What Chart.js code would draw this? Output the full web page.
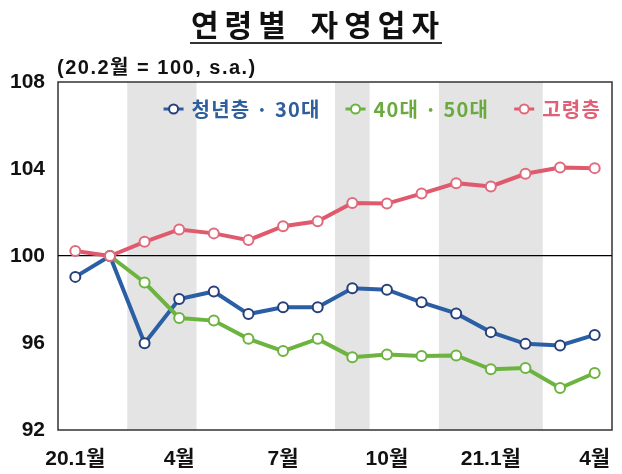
<!DOCTYPE html>
<html>
<head>
<meta charset="utf-8">
<script src="https://cdn.jsdelivr.net/npm/chart.js@4/dist/chart.umd.min.js"></script>
<style>
  html, body { margin: 0; padding: 0; background: #fff; }
  #wrap { width: 622px; height: 474px; }
</style>
</head>
<body>
<div id="wrap"><canvas id="c" width="622" height="474"></canvas></div>
<script>
// ---- data ----
const months = ['20.1','20.2','20.3','20.4','20.5','20.6','20.7','20.8','20.9','20.10','20.11','20.12','21.1','21.2','21.3','21.4'];
const tickLabels = {'20.1':'20.1월','20.4':'4월','20.7':'7월','20.10':'10월','21.1':'21.1월','21.4':'4월'};
const youth30 = [99.04, 100.0, 95.99, 98.02, 98.37, 97.33, 97.64, 97.64, 98.52, 98.45, 97.87, 97.36, 96.50, 95.96, 95.89, 96.37];
const age4050 = [null, 100.0, 98.78, 97.15, 97.03, 96.19, 95.63, 96.19, 95.35, 95.47, 95.40, 95.43, 94.79, 94.85, 93.93, 94.62];
const elderly = [100.23, 100.0, 100.65, 101.22, 101.04, 100.73, 101.37, 101.60, 102.44, 102.41, 102.87, 103.35, 103.20, 103.78, 104.07, 104.04];
const seriesNames = ['청년층 · 30대', '40대 · 50대', '고령층'];
const shadedPeriods = [['20.3','20.4'], ['20.9','20.9'], ['20.12','21.2']];
const yTicks = [92, 96, 100, 104, 108];
const titleText = '연령별 자영업자';
const subtitleText = '(20.2월 = 100, s.a.)';

// ---- styles ----
const lineColors = ['#2b5fa5', '#6db33f', '#e05a6e'];
const markerColors = ['#27407c', '#6db33f', '#e06a7c'];
const textColors = ['#2f5e9c', '#6aaa3e', '#e06075'];
const FONT = '"Liberation Sans", "Noto Sans CJK KR", sans-serif';

const shadePlugin = {
  id: 'shade',
  beforeDraw(chart) {
    const {ctx, chartArea: a, scales: {x}} = chart;
    const half = (x.getPixelForValue(1) - x.getPixelForValue(0)) / 2;
    ctx.save();
    ctx.fillStyle = '#e4e4e4';
    shadedPeriods.forEach(([s, e]) => {
      const x0 = x.getPixelForValue(months.indexOf(s)) - half;
      const x1 = x.getPixelForValue(months.indexOf(e)) + half;
      ctx.fillRect(x0, a.top, x1 - x0, a.bottom - a.top);
    });
    ctx.strokeStyle = '#333';
    ctx.lineWidth = 1.5;
    ctx.strokeRect(a.left, a.top, a.right - a.left, a.bottom - a.top);
    ctx.restore();
  }
};

const textPlugin = {
  id: 'texts',
  afterDraw(chart) {
    const {ctx, chartArea: a} = chart;
    ctx.save();
    // title
    ctx.font = 'bold 30px "Noto Sans CJK KR", sans-serif';
    ctx.letterSpacing = '6px';
    ctx.wordSpacing = '6px';
    ctx.fillStyle = '#111';
    ctx.textAlign = 'center';
    ctx.textBaseline = 'middle';
    const cx = 318;
    ctx.fillText(titleText, cx, 25);
    const tw = ctx.measureText(titleText).width;
    ctx.strokeStyle = '#333';
    ctx.lineWidth = 2;
    ctx.beginPath();
    ctx.moveTo(cx - tw / 2 - 1, 43);
    ctx.lineTo(cx + tw / 2 - 3, 43);
    ctx.stroke();
    // subtitle
    ctx.letterSpacing = '1.5px';
    ctx.wordSpacing = '0px';
    ctx.font = 'bold 20px ' + FONT;
    ctx.textAlign = 'left';
    ctx.fillStyle = '#111';
    ctx.fillText(subtitleText, a.left - 1, 68);
    // legend
    ctx.font = 'bold 20px "Noto Sans CJK KR", sans-serif';
    ctx.letterSpacing = '1.2px';
    const markW = 20, gapT = 8, gapI = 25;
    const widths = seriesNames.map(n => ctx.measureText(n).width);
    let total = widths.reduce((s, w) => s + markW + gapT + w, 0) + gapI * (seriesNames.length - 1);
    let xx = a.right - 11 - total;
    const yy = a.top + 27;
    seriesNames.forEach((n, i) => {
      ctx.strokeStyle = lineColors[i];
      ctx.lineWidth = 3;
      ctx.beginPath();
      ctx.moveTo(xx, yy); ctx.lineTo(xx + markW, yy); ctx.stroke();
      ctx.beginPath();
      ctx.arc(xx + markW / 2, yy, 4.5, 0, Math.PI * 2);
      ctx.fillStyle = '#fff'; ctx.fill();
      ctx.strokeStyle = markerColors[i]; ctx.lineWidth = 2; ctx.stroke();
      ctx.fillStyle = textColors[i];
      ctx.textAlign = 'left';
      ctx.fillText(n, xx + markW + gapT, yy);
      xx += markW + gapT + widths[i] + gapI;
    });
    ctx.restore();
  }
};

const mk = (i, data, order) => ({
  label: seriesNames[i],
  data,
  order,
  borderColor: lineColors[i],
  borderWidth: 4,
  pointRadius: 5,
  pointHoverRadius: 5,
  pointBorderWidth: 2,
  pointBackgroundColor: '#fff',
  pointBorderColor: markerColors[i],
  tension: 0,
  spanGaps: false
});

new Chart(document.getElementById('c'), {
  type: 'line',
  data: {
    labels: months,
    datasets: [mk(0, youth30, 2), mk(1, age4050, 1), mk(2, elderly, 0)]
  },
  options: {
    responsive: false,
    animation: false,
    layout: { padding: { top: 82, right: 10, left: 0, bottom: 0 } },
    plugins: { legend: { display: false }, title: { display: false }, tooltip: { enabled: false } },
    scales: {
      x: {
        type: 'category',
        offset: true,
        grid: { display: false },
        border: { display: false },
        afterFit(s) { s.height = 44; },
        ticks: {
          autoSkip: false, maxRotation: 0, padding: 9,
          color: '#111',
          font: { family: FONT, size: 21, weight: 'bold' },
          callback(v) { return tickLabels[months[v]] || ''; }
        }
      },
      y: {
        min: 92, max: 108,
        afterFit(s) { s.width = 58; },
        afterBuildTicks(s) { s.ticks = yTicks.map(v => ({ value: v })); },
        grid: {
          drawTicks: false,
          color: c => (c.tick && c.tick.value === 100) ? '#000' : 'rgba(0,0,0,0)',
          lineWidth: 1.2
        },
        border: { display: false },
        ticks: {
          padding: 13,
          color: '#111',
          font: { family: FONT, size: 21, weight: 'bold' }
        }
      }
    }
  },
  plugins: [shadePlugin, textPlugin]
});
</script>
</body>
</html>
